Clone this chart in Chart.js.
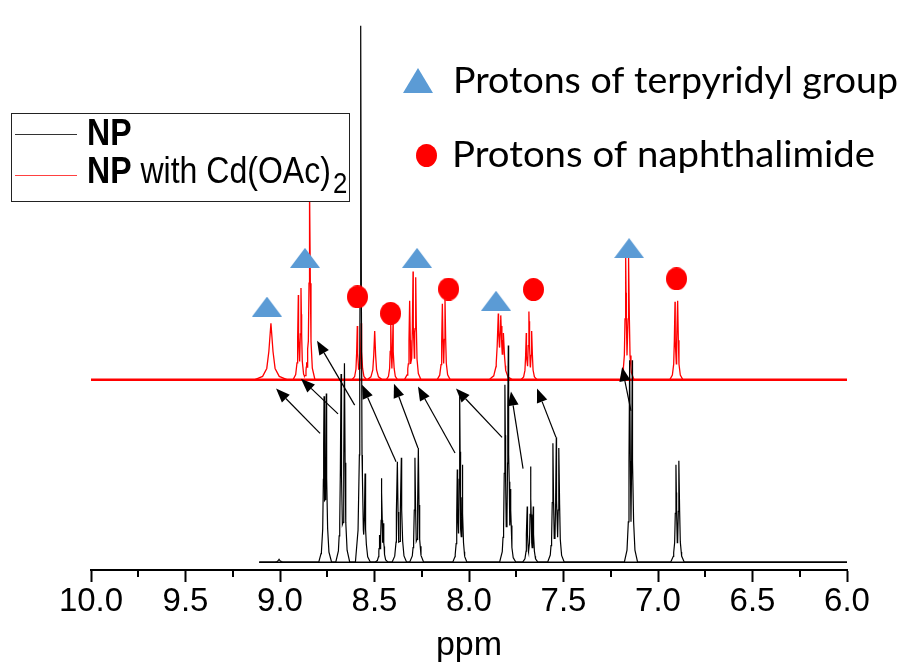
<!DOCTYPE html>
<html>
<head>
<meta charset="utf-8">
<script src="https://cdn.jsdelivr.net/npm/chart.js@4.4.0/dist/chart.umd.min.js"></script>
<style>
  html, body { margin: 0; padding: 0; background: #fff; }
</style>
</head>
<body>
<canvas id="nmr" width="911" height="668"></canvas>
<script>
'use strict';

// ppm axis
var xTicks = [10.0, 9.5, 9.0, 8.5, 8.0, 7.5, 7.0, 6.5, 6.0];
var xMinorTicks = [9.75, 9.25, 8.75, 8.25, 7.75, 7.25, 6.75, 6.25];

// NP (black trace), intensities on the shared offset axis
var npRange = [9.11, 6.0];
var npBase = 8;
var npPpm = [9.005, 8.767, 8.755, 8.677, 8.659, 8.573, 8.550, 8.473, 8.462, 8.453,
             8.379, 8.358, 8.286, 8.268, 8.062, 8.049, 8.035, 7.810, 7.792, 7.780,
             7.692, 7.674, 7.660, 7.556, 7.538, 7.524, 7.150, 7.136, 6.905, 6.889];
var npInt = [11, 178, 181, 201, 212, 558, 99, 36, 94, 48,
             111, 115, 115, 125, 103, 178, 108, 190, 230, 83,
             65, 106, 65, 130, 136, 125, 215, 215, 108, 112];
// half width at half height (ppm)
var npWidth = [0.005, 0.0035, 0.0035, 0.0035, 0.0035, 0.0035, 0.0035, 0.003, 0.003, 0.003,
               0.0035, 0.0035, 0.0035, 0.0035, 0.003, 0.003, 0.003, 0.0035, 0.0035, 0.0035,
               0.003, 0.003, 0.003, 0.0035, 0.0035, 0.0035, 0.0035, 0.0035, 0.0035, 0.0035];

// NP with Cd(OAc)2 (red trace)
var cdRange = [10.0, 6.0];
var cdBase = 195;
var cdPpm = [9.048, 8.903, 8.889, 8.859, 8.843, 8.591, 8.570, 8.499, 8.414, 8.402,
             8.314, 8.296, 8.282, 8.141, 8.127, 7.845, 7.832, 7.818, 7.697, 7.683,
             7.668, 7.171, 7.155, 6.910, 6.896];
var cdInt = [253, 282, 289, 213, 393, 250, 253, 245, 253, 253,
             276, 306, 300, 273, 278, 263, 261, 243, 243, 265,
             245, 320, 320, 275, 276];
var cdWidth = [0.011, 0.0035, 0.0035, 0.0035, 0.0035, 0.0035, 0.0035, 0.005, 0.003, 0.003,
               0.0035, 0.0035, 0.0035, 0.0035, 0.0035, 0.006, 0.006, 0.006, 0.0035, 0.0035,
               0.0035, 0.0035, 0.0035, 0.0035, 0.0035];

// markers above the shifted peaks
var triPpm = [9.069, 8.868, 8.275, 7.857, 7.153];
var triInt = [270, 320, 320, 276, 330];
var dotPpm = [8.590, 8.415, 8.108, 7.659, 6.902];
var dotInt = [280, 263, 288, 287.5, 298.5];

// arrows: NP peak -> shifted peak
var arrowFromPpm = [8.788, 8.693, 8.605, 8.386, 8.270, 8.074, 7.825, 7.714, 7.540, 7.143];
var arrowFromInt = [140, 160, 169, 111, 125, 120, 136, 104, 136, 163];
var arrowToPpm = [9.021, 8.889, 8.804, 8.566, 8.397, 8.270, 8.069, 7.778, 7.640, 7.190];
var arrowToInt = [186, 196, 235, 190, 191, 188, 186, 183, 186, 208];

var BLUE = '#5b9bd5', RED = '#ff0000';

// peak outline: offsets in half-widths and relative heights
var shapeOff = [0, 1, 2, 4, 8];
var shapeLvl = [1, 0.5, 0.2, 0.06, 0];

function peakShape(d, g) {
   var u = d / g;
   for (var k = 1; k < shapeOff.length; k++) {
      if (u <= shapeOff[k]) {
         var t = (u - shapeOff[k - 1]) / (shapeOff[k] - shapeOff[k - 1]);
         return shapeLvl[k - 1] + (shapeLvl[k] - shapeLvl[k - 1]) * t;
      }
   }
   return 0;
}

function buildTrace(range, base, ppm, ints, widths) {
   var xs = [range[0], range[1]];
   ppm.forEach(function (p, i) {
      shapeOff.forEach(function (o) { xs.push(p - o * widths[i], p + o * widths[i]); });
   });
   xs = xs.filter(function (x) { return x <= range[0] && x >= range[1]; });
   xs.sort(function (a, b) { return b - a; });
   return xs.map(function (x) {
      var y = base;
      ppm.forEach(function (p, i) {
         var f = peakShape(Math.abs(x - p), widths[i]);
         if (f > 0) y = Math.max(y, base + (ints[i] - base) * f);
      });
      return { x: x, y: y };
   });
}

function pairs(xs, ys) {
   return xs.map(function (x, i) { return { x: x, y: ys[i] }; });
}

// marker images
function triangleImg(w, h) {
   var c = document.createElement('canvas');
   c.width = w; c.height = h;
   var g = c.getContext('2d');
   g.fillStyle = BLUE;
   g.beginPath(); g.moveTo(w / 2, 0); g.lineTo(w, h); g.lineTo(0, h); g.closePath(); g.fill();
   return c;
}
function dotImg(w, h) {
   var c = document.createElement('canvas');
   c.width = w; c.height = h;
   var g = c.getContext('2d');
   g.fillStyle = RED;
   g.beginPath(); g.ellipse(w / 2, h / 2, w / 2, h / 2, 0, 0, Math.PI * 2); g.fill();
   return c;
}

var overlay = {
   id: 'overlay',
   afterDatasetsDraw: function (chart) {
      var ctx = chart.ctx, xs = chart.scales.x, ys = chart.scales.y;
      ctx.save();
      ctx.strokeStyle = '#000';
      ctx.fillStyle = '#000';
      ctx.lineWidth = 1.2;
      arrowFromPpm.forEach(function (p, i) {
         var x0 = xs.getPixelForValue(p), y0 = ys.getPixelForValue(arrowFromInt[i]);
         var x1 = xs.getPixelForValue(arrowToPpm[i]), y1 = ys.getPixelForValue(arrowToInt[i]);
         var a = Math.atan2(y1 - y0, x1 - x0), L = 14, W = 5.5;
         var bx = x1 - L * Math.cos(a), by = y1 - L * Math.sin(a);
         ctx.beginPath(); ctx.moveTo(x0, y0); ctx.lineTo(bx, by); ctx.stroke();
         ctx.beginPath();
         ctx.moveTo(x1, y1);
         ctx.lineTo(bx + W * Math.sin(a), by - W * Math.cos(a));
         ctx.lineTo(bx - W * Math.sin(a), by + W * Math.cos(a));
         ctx.closePath(); ctx.fill();
      });
      // minor ticks
      ctx.lineWidth = 2;
      var yb = chart.chartArea.bottom;
      xMinorTicks.forEach(function (v) {
         var x = Math.round(xs.getPixelForValue(v));
         ctx.beginPath(); ctx.moveTo(x, yb); ctx.lineTo(x, yb + 7); ctx.stroke();
      });
      ctx.restore();
   },
   afterDraw: function (chart) {
      var ctx = chart.ctx;
      ctx.save();
      function txt(s, x, y, font, sx) {
         ctx.save();
         ctx.font = font;
         ctx.translate(x, y); ctx.scale(sx, 1);
         ctx.fillText(s, 0, 0);
         var w = ctx.measureText(s).width * sx;
         ctx.restore();
         return w;
      }
      function fit(s, x, y, font, width) {
         ctx.font = font;
         return txt(s, x, y, font, width / ctx.measureText(s).width);
      }
      // legend box
      ctx.fillStyle = '#fff';
      ctx.fillRect(11.5, 113.5, 338, 88);
      ctx.strokeStyle = '#222'; ctx.lineWidth = 1;
      ctx.strokeRect(11.5, 113.5, 338, 88);
      ctx.strokeStyle = '#333';
      ctx.beginPath(); ctx.moveTo(15, 134.5); ctx.lineTo(77, 134.5); ctx.stroke();
      ctx.strokeStyle = '#ff4040';
      ctx.beginPath(); ctx.moveTo(15, 175.5); ctx.lineTo(77, 175.5); ctx.stroke();
      ctx.fillStyle = '#000';
      ctx.textBaseline = 'alphabetic';
      var sx = 0.89;
      txt('NP', 87, 145, 'bold 36px "Liberation Sans"', sx);
      var nw = txt('NP', 87, 183, 'bold 36px "Liberation Sans"', sx);
      var w = txt(' with Cd(OAc)', 87 + nw, 183, '36px "Liberation Sans"', sx);
      txt('2', 87 + nw + w + 2, 193, '29px "Liberation Sans"', sx);

      // marker key
      ctx.drawImage(triangleImg(30, 25), 403, 68);
      ctx.drawImage(dotImg(21, 23), 416, 144);
      fit('Protons of terpyridyl group', 453, 93, '37px Lato', 445);
      fit('Protons of naphthalimide', 452, 167, '37px Lato', 423);
      ctx.restore();
   }
};

var ctx = document.getElementById('nmr').getContext('2d');
var chart = new Chart(ctx, {
   type: 'line',
   data: {
      datasets: [
         { label: 'NP', data: buildTrace(npRange, npBase, npPpm, npInt, npWidth),
           borderColor: '#000', borderWidth: 1.2, pointRadius: 0, tension: 0, order: 2 },
         { label: 'NP base', data: pairs(npRange, [npBase, npBase]),
           borderColor: '#000', borderWidth: 1.5, pointRadius: 0, order: 3 },
         { label: 'NP with Cd(OAc)2', data: buildTrace(cdRange, cdBase, cdPpm, cdInt, cdWidth),
           borderColor: RED, borderWidth: 1.3, pointRadius: 0, tension: 0, order: 4 },
         { label: 'Cd base', data: pairs(cdRange, [cdBase, cdBase]),
           borderColor: RED, borderWidth: 2.5, pointRadius: 0, order: 5 },
         { type: 'scatter', label: 'terpyridyl', data: pairs(triPpm, triInt),
           pointStyle: triangleImg(30, 20), pointRadius: 10, order: 0 },
         { type: 'scatter', label: 'naphthalimide', data: pairs(dotPpm, dotInt),
           pointStyle: dotImg(21, 23), pointRadius: 10, order: 0 }
      ]
   },
   options: {
      responsive: false,
      animation: false,
      devicePixelRatio: 1,
      layout: { padding: { left: 91, right: 64, top: 0, bottom: 0 } },
      plugins: { legend: { display: false }, tooltip: { enabled: false } },
      scales: {
         x: {
            type: 'linear', reverse: true, min: 6, max: 10,
            afterBuildTicks: function (s) { s.ticks = xTicks.map(function (v) { return { value: v }; }); },
            ticks: {
               callback: function (v) { return v.toFixed(1); },
               font: { family: 'Liberation Sans', size: 33, lineHeight: 1 },
               color: '#000', padding: 3, maxRotation: 0, autoSkip: false
            },
            grid: { drawOnChartArea: false, drawTicks: true, tickLength: 12, tickWidth: 2, tickColor: '#000' },
            border: { display: true, color: '#000', width: 2 },
            title: {
               display: true, text: 'ppm', color: '#000',
               font: { family: 'Liberation Sans', size: 34, lineHeight: 1 },
               padding: { top: 8, bottom: 5 }
            }
         },
         y: { display: false, min: 0, max: 573 }
      }
   },
   plugins: [overlay]
});
</script>
</body>
</html>
